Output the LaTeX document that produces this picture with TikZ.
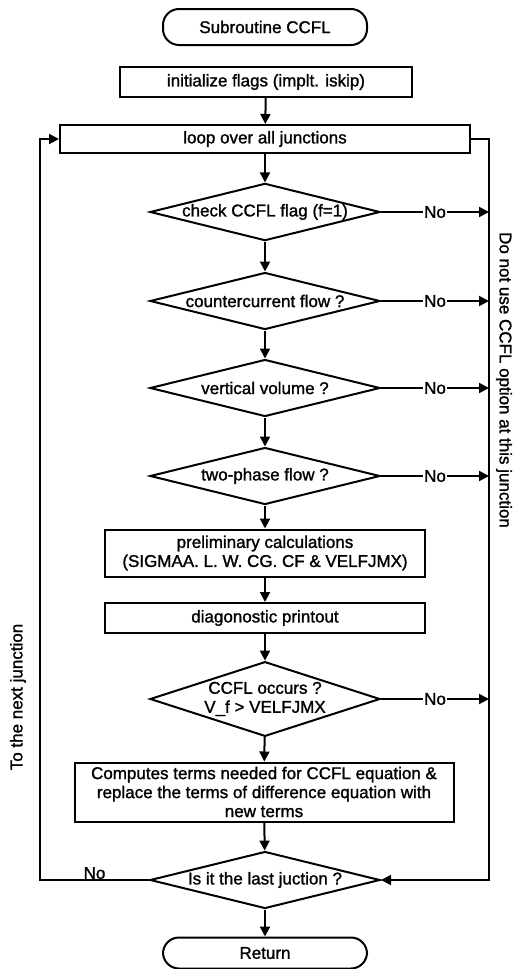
\documentclass[tikz,border=0pt]{standalone}
\usepackage{fontspec}
\setmainfont{Liberation Sans}[FakeBold=1.3]
\usetikzlibrary{arrows.meta, shapes.geometric}

\begin{document}
\begin{tikzpicture}[x=1pt, y=-1pt, line width=2pt,
  font=\fontsize{17pt}{19pt}\selectfont,
  term/.style={draw, rounded corners=16pt, minimum width=204pt, minimum height=36pt, inner sep=0pt},
  proc/.style={draw, align=center, inner sep=0pt},
  decision/.style={draw, diamond, aspect=4, inner sep=0pt, minimum width=230pt, minimum height=57pt, align=center},
  flow/.style={-{Triangle[length=10pt, width=10pt]}},
  nolabel/.style={fill=white, inner sep=1.5pt}]

\useasboundingbox (0,0) rectangle (521,969);

% Start and main column
\node[term] (start) at (265,27) {Subroutine CCFL};
\node[proc, minimum width=292pt, minimum height=30pt] (init) at (266,82) {initialize flags (implt. iskip)};
\node[proc, minimum width=410pt, minimum height=28pt] (loop) at (265,139) {loop over all junctions};
\node[decision] (flag) at (265,212) {check CCFL flag (f=1)};
\node[decision] (counter) at (265,301) {countercurrent flow ?};
\node[decision] (vert) at (265,388) {vertical volume ?};
\node[decision] (twoph) at (265,476) {two-phase flow ?};
\node[proc, minimum width=320pt, minimum height=47pt] (prelim) at (265,553) {preliminary calculations\\(SIGMAA. L. W. CG. CF \& VELFJMX)};
\node[proc, minimum width=320pt, minimum height=30pt] (diag) at (265,618) {diagonostic printout};
\node[decision, aspect=3, minimum height=72pt] (occurs) at (265,699) {CCFL occurs ?\\V\_f > VELFJMX};
\node[proc, minimum width=379pt, minimum height=59pt] (terms) at (264,792) {Computes terms needed for CCFL equation \&\\replace the terms of difference equation with\\new terms};
\node[decision] (last) at (265,880) {Is it the last juction ?};
\node[term, minimum height=31pt] (ret) at (265,953) {Return};

% Side labels
\node[rotate=-90] (skip) at (504,380) {Do not use CCFL option at this junction};
\node[rotate=90] (next) at (18,697) {To the next junction};

% Bus coordinates
\coordinate (bustop) at (489,139);
\coordinate (busbot) at (489,880);
\coordinate (lefttop) at (40,139);
\coordinate (leftbot) at (40,880);

% Main flow arrows
\draw[flow] (init) -- (loop);
\draw[flow] (loop) -- (flag);
\draw[flow] (flag) -- (counter);
\draw[flow] (counter) -- (vert);
\draw[flow] (vert) -- (twoph);
\draw[flow] (twoph) -- (prelim);
\draw[flow] (prelim) -- (diag);
\draw[flow] (diag) -- (occurs);
\draw[flow] (occurs) -- (terms);
\draw[flow] (terms) -- (last);
\draw[flow] (last) -- (ret);

% Right bus: skip this junction
\draw[flow] (loop.east) -- (bustop) -- (busbot) -- (last.east);
\draw[flow] (flag.east) -- (flag.east -| bustop) node[nolabel, midway] {No};
\draw[flow] (counter.east) -- (counter.east -| bustop) node[nolabel, midway] {No};
\draw[flow] (vert.east) -- (vert.east -| bustop) node[nolabel, midway] {No};
\draw[flow] (twoph.east) -- (twoph.east -| bustop) node[nolabel, midway] {No};
\draw[flow] (occurs.east) -- (occurs.east -| bustop) node[nolabel, midway] {No};

% Left loop back
\draw[flow] (last.west) -- (leftbot) node[pos=0.5, anchor=south, inner sep=0pt] {No} -- (lefttop) -- (loop.west);

\end{tikzpicture}
\end{document}
